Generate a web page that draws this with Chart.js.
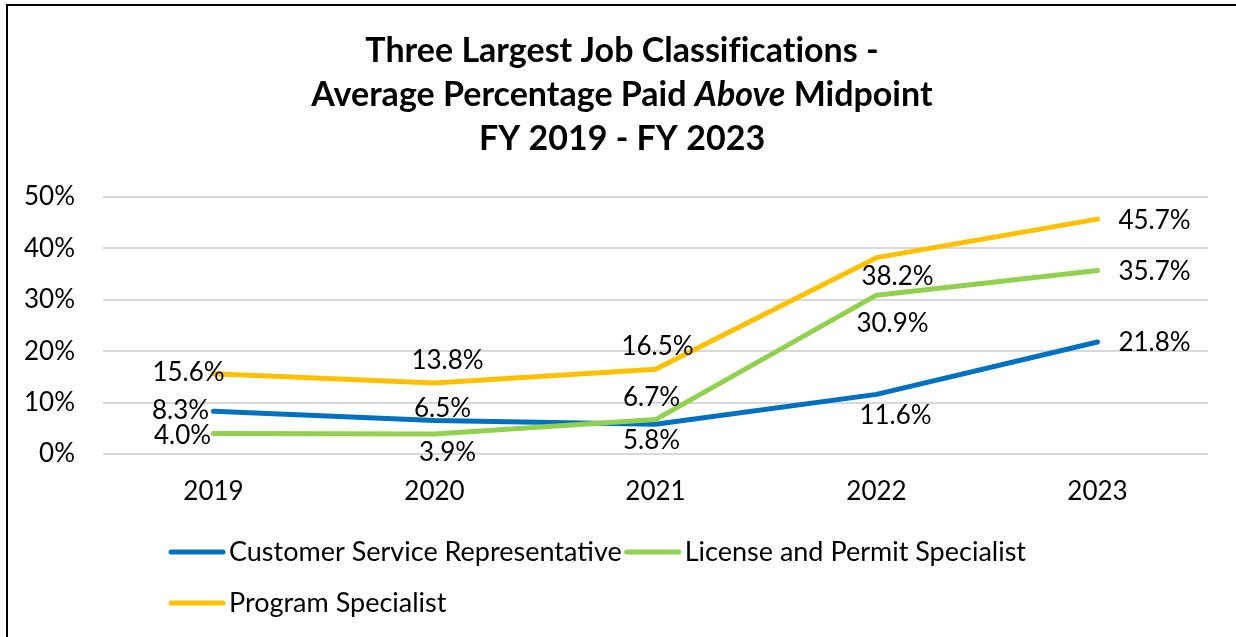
<!DOCTYPE html>
<html>
<head>
<meta charset="utf-8">
<script src="https://cdn.jsdelivr.net/npm/chart.js@4/dist/chart.umd.min.js"></script>
<style>
  html, body { margin: 0; padding: 0; background: #ffffff; }
  #wrap { position: relative; width: 1236px; height: 637px; }
</style>
</head>
<body>
<div id="wrap"><canvas id="c" width="1236" height="637"></canvas></div>
<script>
// ---- data ----
const categories = ['2019', '2020', '2021', '2022', '2023'];
const seriesNames = ['Customer Service Representative', 'License and Permit Specialist', 'Program Specialist'];
const customerService = [8.3, 6.5, 5.8, 11.6, 21.8];
const licensePermit = [4.0, 3.9, 6.7, 30.9, 35.7];
const programSpecialist = [15.6, 13.8, 16.5, 38.2, 45.7];
const yTickValues = [0, 10, 20, 30, 40, 50];
const titleLine1 = 'Three Largest Job Classifications -';
const titleLine2 = [['Average Percentage Paid ', false], ['Above', true], [' Midpoint', false]];
const titleLine3 = 'FY 2019 - FY 2023';

// ---- styles / label placement (kept apart from data) ----
const colors = ['#0070C0', '#92D050', '#FFC000'];
const labelOffsets = [
  [[-33, -1], [8, -12], [-4, 16], [19, 21], [57, 1]],
  [[-31, 2], [13, 19], [-4, -22], [16, 28], [57, 1]],
  [[-25, -1], [13, -22], [2, -23], [21, 19], [57, 2]]
];
const FONT = 'Lato, "Open Sans", sans-serif';

const borderPlugin = {
  id: 'frame',
  beforeDraw(chart) {
    const ctx = chart.ctx;
    ctx.save();
    ctx.fillStyle = '#ffffff';
    ctx.fillRect(0, 0, chart.width, chart.height);
    ctx.strokeStyle = '#000000';
    ctx.lineWidth = 2;
    ctx.strokeRect(7, 5, chart.width + 50, chart.height + 50);
    ctx.restore();
  }
};

const titlePlugin = {
  id: 'richTitle',
  afterDraw(chart) {
    const ctx = chart.ctx;
    const cx = 622;
    const size = 34;
    ctx.save();
    ctx.fillStyle = '#000000';
    ctx.textBaseline = 'alphabetic';
    ctx.textAlign = 'left';
    if ('letterSpacing' in ctx) ctx.letterSpacing = '0.01px';
    const fontFor = (it) => (it ? 'italic ' : '') + 'bold ' + size + 'px ' + FONT;
    // line 1
    ctx.font = fontFor(false);
    let w = ctx.measureText(titleLine1).width;
    ctx.fillText(titleLine1, cx - w / 2, 62);
    // line 2 (mixed)
    let total = 0;
    titleLine2.forEach(([t, it]) => { ctx.font = fontFor(it); total += ctx.measureText(t).width; });
    let x = cx - total / 2;
    titleLine2.forEach(([t, it]) => { ctx.font = fontFor(it); ctx.fillText(t, x, 106); x += ctx.measureText(t).width; });
    // line 3
    ctx.font = fontFor(false);
    w = ctx.measureText(titleLine3).width;
    ctx.fillText(titleLine3, cx - w / 2, 150);
    ctx.restore();
  }
};

const dataLabelPlugin = {
  id: 'valueLabels',
  afterDatasetsDraw(chart) {
    const ctx = chart.ctx;
    ctx.save();
    ctx.font = '26px ' + FONT;
    ctx.fillStyle = '#000000';
    ctx.textAlign = 'center';
    ctx.textBaseline = 'middle';
    chart.data.datasets.forEach((ds, i) => {
      const meta = chart.getDatasetMeta(i);
      meta.data.forEach((pt, j) => {
        const off = labelOffsets[i][j];
        ctx.fillText(ds.data[j].toFixed(1) + '%', pt.x + off[0], pt.y + off[1]);
      });
    });
    ctx.restore();
  }
};

const legendPlugin = {
  id: 'customLegend',
  afterDraw(chart) {
    const ctx = chart.ctx;
    ctx.save();
    ctx.font = '27px ' + FONT;
    ctx.textBaseline = 'middle';
    ctx.textAlign = 'left';
    const x0 = 169, lineLen = 54, textGap = 60, itemGap = 3, rowH = 51, maxRight = 1210;
    let x = x0, y = 552;
    chart.data.datasets.forEach((ds) => {
      const tw = ctx.measureText(ds.label).width;
      if (x !== x0 && x + textGap + tw > maxRight) { x = x0; y += rowH; }
      ctx.strokeStyle = ds.borderColor;
      ctx.lineWidth = 5;
      ctx.lineCap = 'round';
      ctx.beginPath();
      ctx.moveTo(x + 2, y);
      ctx.lineTo(x + lineLen, y);
      ctx.stroke();
      ctx.fillStyle = '#000000';
      ctx.fillText(ds.label, x + textGap, y);
      x += textGap + tw + itemGap;
    });
    ctx.restore();
  }
};

const seriesData = [customerService, licensePermit, programSpecialist];
const datasets = seriesData.map((d, i) => ({
  label: seriesNames[i],
  data: d,
  borderColor: colors[i],
  backgroundColor: colors[i],
  borderWidth: 5,
  borderCapStyle: 'round',
  borderJoinStyle: 'round',
  pointRadius: 0,
  pointHoverRadius: 0,
  tension: 0,
  fill: false,
  order: 3 - i
}));

new Chart(document.getElementById('c'), {
  type: 'line',
  data: { labels: categories, datasets },
  options: {
    responsive: false,
    animation: false,
    devicePixelRatio: 1,
    layout: { padding: { top: 197, right: 28, left: 0, bottom: 0 } },
    plugins: {
      legend: { display: false },
      title: { display: false },
      tooltip: { enabled: false }
    },
    scales: {
      x: {
        offset: true,
        grid: { display: false, drawTicks: false },
        border: { display: false },
        ticks: { color: '#000000', font: { family: FONT, size: 26 }, padding: 22, maxRotation: 0 },
        afterFit(scale) { scale.height = 183; }
      },
      y: {
        min: 0,
        max: 50,
        afterBuildTicks(scale) { scale.ticks = yTickValues.map(v => ({ value: v })); },
        grid: { color: '#D9D9D9', lineWidth: 2, drawTicks: false },
        border: { display: false },
        ticks: {
          color: '#000000',
          font: { family: FONT, size: 26 },
          padding: 28,
          callback: (v) => v + '%'
        },
        afterFit(scale) { scale.width = 103; }
      }
    }
  },
  plugins: [borderPlugin, dataLabelPlugin, titlePlugin, legendPlugin]
});
</script>
</body>
</html>
